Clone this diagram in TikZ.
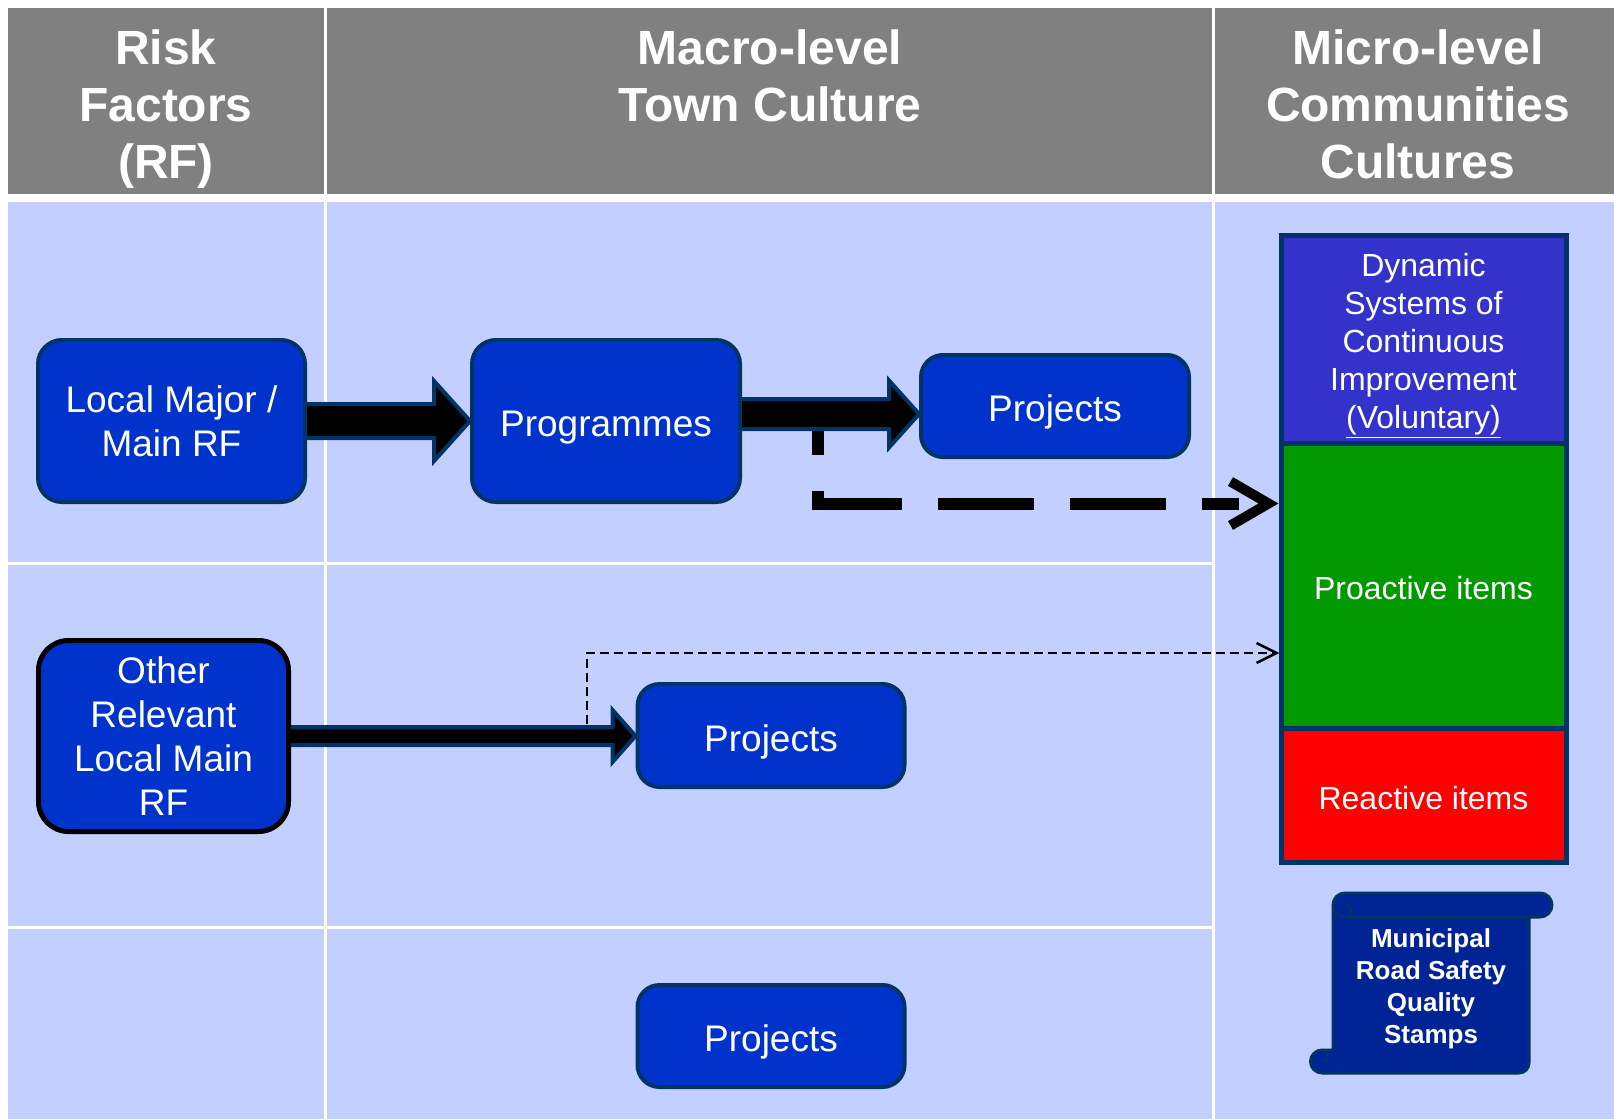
\documentclass[tikz,border=0pt]{standalone}
\usepackage{fontspec}
\setmainfont{Liberation Sans}
\usetikzlibrary{calc}
\definecolor{hdrgray}{RGB}{128,128,128}
\definecolor{bodyblue}{RGB}{194,207,255}
\definecolor{boxblue}{RGB}{0,51,204}
\definecolor{navy}{RGB}{0,51,102}
\definecolor{dynblue}{RGB}{51,51,204}
\definecolor{progreen}{RGB}{0,153,0}
\definecolor{reared}{RGB}{255,0,0}
\definecolor{scrollblue}{RGB}{0,35,150}
\newcommand\blkarrow[6]{%
  \draw[blockarrow] let \p1=#1, \p2=#2 in
    (\x1,{\y1+#4}) -- ({\x2-#6},{\y1+#4}) -- ({\x2-#6},{\y1+#5}) -- (\x2,\y1)
    -- ({\x2-#6},{\y1-#5}) -- ({\x2-#6},{\y1-#4}) -- (\x1,{\y1-#4});
}
\begin{document}
\begin{tikzpicture}[x=1pt,y=-1pt,
  box/.style={draw=navy,line width=4pt,fill=boxblue,rounded corners=24pt,text=white,
    align=center,inner sep=0pt,font=\fontsize{37pt}{44pt}\selectfont},
  oneline/.style={text height=31pt,text depth=0pt},
  hdr/.style={anchor=north,text=white,align=center,inner sep=0pt,
    font=\bfseries\fontsize{48pt}{57pt}\selectfont},
  blockarrow/.style={fill=black,draw=navy,line width=4pt,line join=miter},
  stackbox/.style={draw=navy,line width=5pt,text=white,align=center,inner sep=0pt,
    minimum width=285pt,font=\fontsize{32pt}{38pt}\selectfont},
  stacktext/.style={text=white,align=center,inner sep=0pt,font=\fontsize{32pt}{38pt}\selectfont},
  thickdash/.style={draw=black,line width=12pt,dash pattern=on 96pt off 36pt,dash phase=72pt,
    line cap=butt,line join=miter},
  thindash/.style={draw=black,line width=2.5pt,dash pattern=on 9pt off 5pt,line cap=butt},
  vtip/.style={draw=black,line join=miter,line cap=butt},
  scroll/.style={fill=scrollblue,draw=navy,line width=3pt,line join=round},
  stamptext/.style={text=white,align=center,inner sep=0pt,
    font=\bfseries\fontsize{26pt}{32pt}\selectfont}
]
\useasboundingbox (0,0) rectangle (1614,1119);
\fill[white] (0,0) rectangle (1614,1119);
% header
\fill[hdrgray] (8,8) rectangle (324,194);
\fill[hdrgray] (327,8) rectangle (1212,194);
\fill[hdrgray] (1215,8) rectangle (1614,194);
% body
\fill[bodyblue] (8,202) rectangle (324,1119);
\fill[bodyblue] (327,202) rectangle (1212,1119);
\fill[bodyblue] (1215,202) rectangle (1614,1119);
\draw[white,line width=3pt] (8,563) -- (1212,563);
\draw[white,line width=3pt] (8,927) -- (1212,927);

% header texts
\node[hdr] (h1) at (166,30) {Risk\\Factors\\(RF)};
\node[hdr] (h2) at (770,30) {Macro-level\\Town Culture};
\node[hdr] (h3) at (1418,30) {Micro-level\\Communities\\Cultures};

% boxes
\node[box,minimum width=267pt,minimum height=162pt] (lm) at (171.5,421) {Local Major /\\Main RF};
\node[box,oneline,minimum width=268pt,minimum height=162pt] (prog) at (606,421) {Programmes};
\node[box,oneline,minimum width=268pt,minimum height=102pt,rounded corners=22pt] (proj1) at (1055,406) {Projects};
\node[box,draw=black,line width=5pt,rounded corners=30pt,minimum width=250pt,minimum height=191pt] (other) at (163.5,736) {Other\\Relevant\\Local Main\\RF};
\node[box,oneline,minimum width=267pt,minimum height=103pt,rounded corners=22pt] (proj2) at (771,735.5) {Projects};
\node[box,oneline,minimum width=267pt,minimum height=102pt,rounded corners=22pt] (proj3) at (771,1036) {Projects};

% stacked boxes
\node[stackbox,fill=dynblue,minimum height=207.5pt] (dyn) at (1423.5,339.25) {};
\node[stacktext] (dyntext) at (1423.5,345.5)
  {Dynamic\\Systems of\\Continuous\\Improvement\\\underline{(Voluntary)}};
\node[stackbox,fill=progreen,minimum height=285pt,text height=28pt,text depth=0pt] (pro) at (1423.5,585.5) {Proactive items};
\node[stackbox,fill=reared,minimum height=134pt,text height=28pt,text depth=0pt] (rea) at (1423.5,795) {Reactive items};

% block arrows
\blkarrow{(lm.east)}{(prog.west)}{}{17pt}{40pt}{36pt}
\blkarrow{($(prog.east)+(0,-7)$)}{(proj1.west)}{}{15pt}{33.5pt}{30pt}
\blkarrow{(other.east)}{(proj2.west)}{}{9pt}{26pt}{23pt}

% thick dashed arrow
\coordinate (d1) at (818,431);
\draw[thickdash,shorten >=40pt] (d1) |- ($(pro.west)+(0,-82)$);
\draw[vtip,line width=10pt] ($(pro.west)+(-48,-104)$) -- ($(pro.west)+(-10,-82)$) -- ($(pro.west)+(-48,-60)$);

% thin dashed arrow
\coordinate (d2) at (587,724);
\draw[thindash] (d2) |- ($(pro.west)+(-3,67.5)$);
\draw[vtip,line width=2.5pt] ($(pro.west)+(-22,57.5)$) -- ($(pro.west)+(-2,67.5)$) -- ($(pro.west)+(-22,77.5)$);

% scroll
\path[scroll] (1345,893) -- (1540,893) arc[start angle=90,end angle=-90,radius=12pt]
  -- (1529,917) -- (1529,1063) arc[start angle=0,end angle=-90,radius=10pt]
  -- (1322,1073) arc[start angle=-90,end angle=-270,radius=11.5pt]
  -- (1333,1050) -- (1333,905) arc[start angle=180,end angle=90,radius=12pt] -- cycle;
\draw[navy,line width=3pt] (1345,917) -- (1529,917);
\draw[navy,line width=2.5pt] (1333,905) arc[start angle=180,end angle=270,radius=12pt]
  arc[start angle=-90,end angle=90,radius=6pt];
\draw[navy,line width=2.5pt] (1322,1050) arc[start angle=90,end angle=-90,radius=5.75pt];
\node[stamptext] (stamps) at (1431,989) {Municipal\\Road Safety\\Quality\\Stamps};
\end{tikzpicture}
\end{document}
